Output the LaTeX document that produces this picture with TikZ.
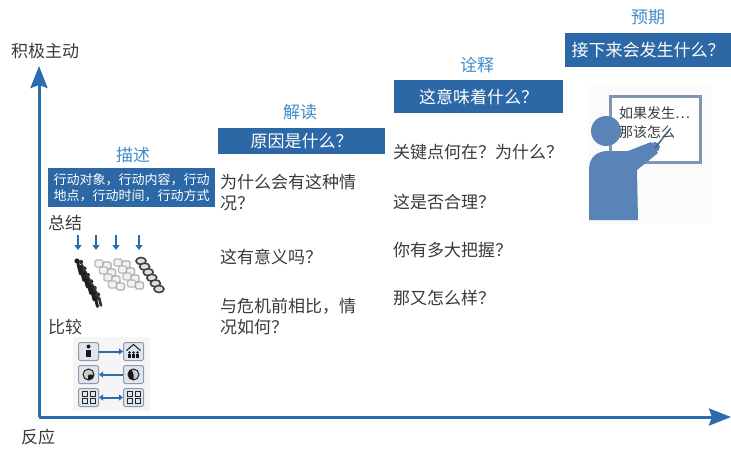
\documentclass[tikz,border=0pt]{standalone}
\usepackage{fontspec}
\newfontfamily\cjk{Noto Sans CJK SC}
\usetikzlibrary{arrows.meta}
\definecolor{axisblue}{HTML}{2B6CB0}
\definecolor{boxblue}{HTML}{2C68A6}
\definecolor{headblue}{HTML}{3D8BC9}
\definecolor{ink}{HTML}{3A3A3A}
\definecolor{figblue}{HTML}{5A84B8}
\definecolor{boardgrey}{HTML}{7F95B2}
\definecolor{iconframe}{HTML}{8A9BB0}
\definecolor{iconfill}{HTML}{DFE5EC}
\begin{document}
\begin{tikzpicture}[x=1pt,y=-1pt,
  txt/.style={font=\cjk\fontsize{17}{21}\selectfont, text=ink, anchor=west, align=left, inner sep=0pt},
  heading/.style={font=\cjk\fontsize{17}{20}\selectfont, text=headblue, inner sep=0pt},
  qbox/.style={fill=boxblue, text=white, font=\cjk\fontsize{17}{20}\selectfont, inner sep=0pt},
  axis/.style={draw=axisblue, line width=3pt, -{Stealth[length=22pt,width=17pt,inset=3pt]}},
  downarrow/.style={draw=axisblue, line width=2.2pt, -{Triangle[length=5pt,width=7pt]}},
  cmparrow/.style={draw=axisblue, line width=2pt},
  iconbox/.style={draw=iconframe, fill=iconfill, line width=1pt, rounded corners=1.5pt}]
\useasboundingbox (0,0) rectangle (731,448);

% axes
\coordinate (o) at (39,417);
\coordinate (ytip) at (39,66);
\coordinate (xtip) at (731,417);
\draw[axis] (o) -- (ytip);
\draw[axis] (o) -- (xtip);
\node[font=\cjk\fontsize{17}{20}\selectfont, text=ink, inner sep=0pt] (ylab) at (45,51) {积极主动};
\node[font=\cjk\fontsize{17}{20}\selectfont, text=ink, inner sep=0pt] (xlab) at (38,437) {反应};

% stage 1: description
\node[heading] (h1) at (133,155) {描述};
\node[fill=boxblue, text=white, font=\cjk\fontsize{13}{16}\selectfont, align=center,
      minimum width=167pt, minimum height=39pt, inner sep=0pt] (b1) at (131.5,187.5)
      {行动对象，行动内容，行动\\地点，行动时间，行动方式};
\node[txt] (sum) at (48,223) {总结};
\foreach \x [count=\i] in {78,96,116,139}{
  \coordinate (da\i) at (\x,235);
  \coordinate (db\i) at (\x,250);
  \draw[downarrow] (da\i) -- (db\i);
}
% crowd pictogram: people, documents, places and times in diagonal rows
\foreach \i in {0,...,5}{
  \fill[gray!25!black] (77+3.4*\i,261+6.5*\i) circle (2.6);
  \draw[gray!25!black, line width=3pt, line cap=round] (78+3.4*\i,264+6.5*\i) -- (80.5+3.4*\i,274+6.5*\i);
  \fill[gray!40!black] (81+3.4*\i,262+6.5*\i) circle (2.2);
  \draw[gray!40!black, line width=2.6pt, line cap=round] (82+3.4*\i,265+6.5*\i) -- (84+3.4*\i,273+6.5*\i);
}
\foreach \i in {0,...,3}{
  \draw[gray!55, line width=1.4pt, rounded corners=1.5pt, fill=gray!10] (95+4.5*\i,260+7*\i) rectangle ++(8,7);
  \draw[gray!65, line width=1.4pt, rounded corners=1.5pt, fill=gray!10] (103+4.5*\i,262+7*\i) rectangle ++(8,7);
  \draw[gray!55, line width=1.4pt, rounded corners=1.5pt, fill=gray!10] (114+4.5*\i,259+7*\i) rectangle ++(8,7);
  \draw[gray!65, line width=1.4pt, rounded corners=1.5pt, fill=gray!10] (122+4.5*\i,261+7*\i) rectangle ++(8,7);
}
\foreach \i in {0,...,5}{
  \draw[gray!50!black, line width=1.6pt, fill=gray!25] (141+3.6*\i,261+5.6*\i) ellipse (5 and 3.5);
}
\node[txt] (cmp) at (48,327) {比较};
% comparison pictogram
\fill[gray!8] (73,337) rectangle (150,411);
\foreach \y [count=\i] in {342,365,388}{
  \node[iconbox, minimum width=20pt, minimum height=18pt, inner sep=0pt, anchor=north west] (l\i) at (78,\y) {};
  \node[iconbox, minimum width=20pt, minimum height=18pt, inner sep=0pt, anchor=north west] (r\i) at (123,\y) {};
}
\draw[cmparrow, -{Triangle[length=4pt,width=6pt]}] (l1) -- (r1);
\draw[cmparrow, {Triangle[length=4pt,width=6pt]}-] (l2) -- (r2);
\draw[cmparrow, {Triangle[length=4pt,width=6pt]}-{Triangle[length=4pt,width=6pt]}] (l3) -- (r3);
% icon glyphs
\fill[gray!20!black] (l1.center) ++(0,-5) circle (2);
\fill[gray!20!black] (l1.center) ++(-2.5,-2) rectangle ++(5,7);
\draw[gray!20!black, line width=1pt] (r1.center) ++(-7,-1) -- ++(7,-6) -- ++(7,6);
\foreach \dx in {-4,0,4}{\fill[gray!20!black] (r1.center) ++(\dx,1) circle (1.3); \fill[gray!20!black] (r1.center) ++(\dx-1.2,2.5) rectangle ++(2.4,4);}
\draw[gray!30!black, line width=1pt, fill=gray!40] (l2.center) circle (5.5);
\fill[gray!20!black] (l2.center) -- ++(5.5,0) arc (0:100:5.5) -- cycle;
\draw[gray!30!black, line width=1pt, fill=gray!40] (r2.center) circle (5.5);
\fill[gray!20!black] (r2.center) -- ++(0,5.5) arc (90:250:5.5) -- cycle;
\foreach \b in {l3,r3}{
  \foreach \dx in {-4,4}{\foreach \dy in {-3.5,3.5}{
    \draw[gray!30!black, line width=0.9pt] (\b.center) ++(\dx-2.5,\dy-2.3) rectangle ++(5,4.6);
  }}
}

% stage 2: interpretation
\node[heading] (h2) at (300,112) {解读};
\node[qbox, minimum width=167pt, minimum height=26pt] (b2) at (301.5,141) {原因是什么？};
\node[txt] (q21) at (220,192.5) {为什么会有这种情\\况？};
\node[txt] (q22) at (220,257) {这有意义吗？};
\node[txt] (q23) at (220,316.5) {与危机前相比，情\\况如何？};

% stage 3: explanation
\node[heading] (h3) at (477,65) {诠释};
\node[qbox, minimum width=169pt, minimum height=33pt] (b3) at (478.5,96.5) {这意味着什么？};
\node[txt] (q31) at (393,152) {关键点何在？为什么？};
\node[txt] (q32) at (393,202) {这是否合理？};
\node[txt] (q33) at (393,250) {你有多大把握？};
\node[txt] (q34) at (393,298) {那又怎么样？};

% stage 4: anticipation
\node[heading] (h4) at (648,17) {预期};
\node[qbox, minimum width=166pt, minimum height=34pt] (b4) at (648,50) {接下来会发生什么？};
% teacher at the board
\fill[gray!3] (588,86) rectangle (712,224);
\draw[boardgrey, line width=3pt, fill=white] (610,96) rectangle (700,162);
\node[font=\cjk\fontsize{14}{19}\selectfont, text=ink, anchor=west, align=left, inner sep=0pt] (board) at (619,122.5) {如果发生⋯\\那该怎么};
\fill[figblue] (606,131) circle (15);
\fill[figblue] (589,220) -- (589,170) .. controls (589,157) and (597,151) .. (608,151)
  -- (628,151) -- (651,142) -- (658,153) -- (637,170) -- (638,220) -- cycle;
\fill[figblue] (655,147) circle (5);
\draw[figblue!75!black, line width=1.5pt] (655,148) -- (670,129);
\end{tikzpicture}
\end{document}
